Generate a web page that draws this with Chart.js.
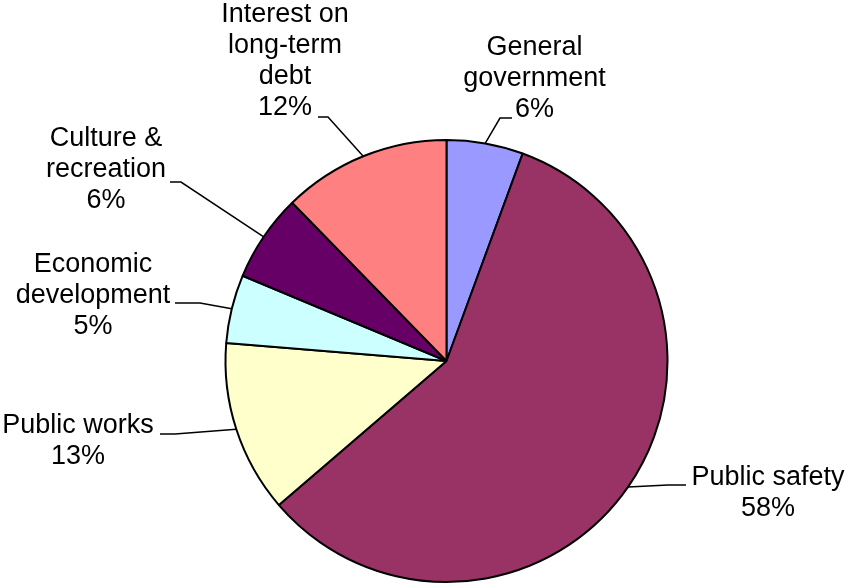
<!DOCTYPE html>
<html>
<head>
<meta charset="utf-8">
<script src="https://cdn.jsdelivr.net/npm/chart.js@4"></script>
<style>
  html, body { margin: 0; padding: 0; background: #fff; }
  #wrap { width: 846px; height: 586px; position: relative; }
</style>
</head>
<body>
<div id="wrap"><canvas id="pieChart" width="846" height="586"></canvas></div>
<script>
// Expenses by function (share of total, %)
const categories = [
  ["General", "government"],
  ["Public safety"],
  ["Public works"],
  ["Economic", "development"],
  ["Culture &", "recreation"],
  ["Interest on", "long-term", "debt"],
];
const shares = [5.6, 58.1, 12.6, 5.0, 6.4, 12.3];
const sliceColors = ["#9999FF", "#993366", "#FFFFCC", "#CCFFFF", "#660066", "#FF8080"];

// label placement, relative to the pie centre (text = first baseline, hook/tail = leader bend/end)
const labelLayout = [
  { tx: 88, ty: -306, hook: [53.5, -243], tail: [65.5, -243] },
  { tx: 321.5, ty: 124, hook: [221.5, 124], tail: [239.5, 124] },
  { tx: -368.5, ty: 72, hook: [-271.5, 73], tail: [-286.5, 73] },
  { tx: -353.5, ty: -89, hook: [-246.5, -58], tail: [-271.5, -58] },
  { tx: -340.5, ty: -215, hook: [-265.5, -179], tail: [-276.5, -179] },
  { tx: -161.5, ty: -339, hook: [-118.5, -244], tail: [-128.5, -244] },
];

const leaderLabels = {
  id: "leaderLabels",
  afterDraw(chart) {
    const ctx = chart.ctx;
    const arcs = chart.getDatasetMeta(0).data;
    const total = shares.reduce((a, b) => a + b, 0);
    ctx.save();
    ctx.font = '27px "Liberation Sans", Arial, sans-serif';
    ctx.fillStyle = "#000";
    ctx.textAlign = "center";
    ctx.textBaseline = "alphabetic";
    ctx.strokeStyle = "#000";
    ctx.lineWidth = 1.5;
    arcs.forEach((arc, i) => {
      const p = arc.getProps(["x", "y", "startAngle", "endAngle", "outerRadius"], true);
      const mid = (p.startAngle + p.endAngle) / 2;
      const ex = p.x + Math.cos(mid) * p.outerRadius;
      const ey = p.y + Math.sin(mid) * p.outerRadius;
      const lay = labelLayout[i];
      ctx.beginPath();
      ctx.moveTo(ex, ey);
      ctx.lineTo(p.x + lay.hook[0], p.y + lay.hook[1]);
      ctx.lineTo(p.x + lay.tail[0], p.y + lay.tail[1]);
      ctx.stroke();
      const lines = categories[i].concat([Math.round((shares[i] / total) * 100) + "%"]);
      lines.forEach((t, k) => {
        ctx.fillText(t, p.x + lay.tx, p.y + lay.ty + k * 31);
      });
    });
    ctx.restore();
  },
};

new Chart(document.getElementById("pieChart"), {
  type: "pie",
  data: {
    labels: categories.map((c) => c.join(" ")),
    datasets: [
      {
        data: shares,
        backgroundColor: sliceColors,
        borderColor: "#000",
        borderWidth: 2,
      },
    ],
  },
  options: {
    responsive: false,
    animation: false,
    layout: { padding: { top: 139, bottom: 3, left: 100, right: 53 } },
    plugins: {
      legend: { display: false },
      tooltip: { enabled: false },
    },
  },
  plugins: [leaderLabels],
});
</script>
</body>
</html>
